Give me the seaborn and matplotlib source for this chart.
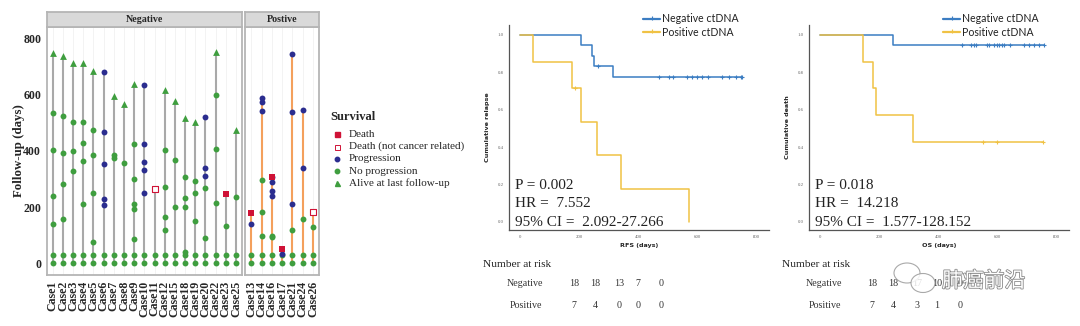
import numpy as np
import pandas as pd
import matplotlib
matplotlib.use("Agg")
import matplotlib.pyplot as plt
import seaborn as sns
from matplotlib.lines import Line2D
from matplotlib.patches import Ellipse
import matplotlib.patheffects as pe

sns.set_theme(style="white")
plt.rcParams["font.family"] = ["Liberation Serif", "DejaVu Sans"]

# ---------------- data: swimmer plot ----------------
neg_cases = ["Case1", "Case2", "Case3", "Case4", "Case5", "Case6", "Case7", "Case8", "Case9", "Case10",
             "Case11", "Case12", "Case15", "Case18", "Case19", "Case20", "Case22", "Case23", "Case25"]
pos_cases = ["Case13", "Case14", "Case16", "Case17", "Case21", "Case24", "Case26"]
baseline_days = [0, 30]

alive_case = ["Case1", "Case2", "Case3", "Case4", "Case5", "Case7", "Case8", "Case9", "Case12", "Case15",
              "Case18", "Case19", "Case22", "Case25"]
alive_day = [749, 737, 713, 713, 685, 593, 565, 637, 615, 577, 518, 504, 751, 473]

noprog_case = (["Case1"] * 4 + ["Case2"] * 4 + ["Case3"] * 3 + ["Case4"] * 4 + ["Case5"] * 4 +
               ["Case7"] * 2 + ["Case8"] + ["Case9"] * 5 + ["Case12"] * 4 + ["Case15"] * 2 +
               ["Case18"] * 4 + ["Case19"] * 3 + ["Case20"] * 2 + ["Case22"] * 3 + ["Case23"] +
               ["Case25"] + ["Case14"] * 3 + ["Case16"] * 2 + ["Case21"] + ["Case24"] + ["Case26"])
noprog_day = [536, 403, 239, 140, 525, 391, 281, 157, 501, 399, 328, 501, 429, 364, 210,
              474, 384, 251, 77, 384, 376, 357, 424, 300, 211, 193, 88, 404, 271, 166, 120,
              366, 201, 307, 232, 200, 40, 293, 251, 150, 269, 89, 600, 406, 213, 133, 237,
              181, 296, 96, 97, 92, 118, 156, 130]

prog_case = (["Case6"] * 5 + ["Case10"] * 5 + ["Case20"] * 3 + ["Case13"] + ["Case14"] * 3 +
             ["Case16"] * 4 + ["Case17"] + ["Case21"] * 3 + ["Case24"] * 2)
prog_day = [679, 467, 354, 229, 207, 634, 423, 360, 333, 251, 521, 340, 312, 141,
            589, 572, 541, 305, 290, 257, 240, 33, 743, 539, 210, 545, 340]

death_case = ["Case13", "Case16", "Case17", "Case23"]
death_day = [178, 308, 50, 245]
death_nc_case = ["Case11", "Case26"]
death_nc_day = [264, 184]

# ---------------- data: Kaplan-Meier ----------------
rfs_neg_events = [207, 243, 251, 314]
rfs_neg_censored = [265, 471, 503, 516, 565, 582, 599, 616, 635, 684, 706, 729, 748, 751]
rfs_pos_events = [45, 177, 207, 260, 342, 573]
rfs_pos_censored = [185]

os_neg_events = [246]
os_neg_censored = [479, 511, 520, 527, 565, 572, 587, 600, 604, 616, 623, 644, 690, 707, 724, 741, 758]
os_pos_events = [145, 179, 188, 313]
os_pos_censored = [550, 598, 754]

risk_times = [0, 200, 400, 600, 800]
rfs_risk_neg = [18, 18, 13, 7, 0]
rfs_risk_pos = [7, 4, 0, 0, 0]
os_risk_neg = [18, 18, 17, 10, 0]
os_risk_pos = [7, 4, 3, 1, 0]

stats_rfs = ["P = 0.002", "HR =  7.552", "95% CI =  2.092-27.266"]
stats_os = ["P = 0.018", "HR =  14.218", "95% CI =  1.577-128.152"]

# ---------------- styling ----------------
W, H = 1080, 326
C_GREEN = "#3f9e3f"
C_BLUE = "#2b2d8f"
C_RED = "#cf1236"
C_GREY_LINE = "#a9a9a9"
C_ORANGE = "#f4a05c"
C_KM_NEG = "#3b7dc2"
C_KM_POS = "#f0c244"

fig = plt.figure(figsize=(W / 100, H / 100), dpi=100)
fig.patch.set_facecolor("white")


def px_axes(l, t, r, b):
    return fig.add_axes([l / W, 1 - b / H, (r - l) / W, (b - t) / H])


def fx(x):
    return x / W


def fy(y):
    return 1 - y / H


# build long table of swimmer points
rows = []
for c in neg_cases + pos_cases:
    for d in baseline_days:
        rows.append((c, d, "No progression"))
for c, d in zip(noprog_case, noprog_day):
    rows.append((c, d, "No progression"))
for c, d in zip(alive_case, alive_day):
    rows.append((c, d, "Alive at last follow-up"))
for c, d in zip(prog_case, prog_day):
    rows.append((c, d, "Progression"))
for c, d in zip(death_case, death_day):
    rows.append((c, d, "Death"))
for c, d in zip(death_nc_case, death_nc_day):
    rows.append((c, d, "Death (not cancer related)"))
swim = pd.DataFrame(rows, columns=["case", "day", "status"])

styles = {
    "No progression": dict(marker="o", color=C_GREEN, s=18, linewidth=0),
    "Alive at last follow-up": dict(marker="^", color=C_GREEN, s=24, linewidth=0),
    "Progression": dict(marker="o", color=C_BLUE, s=18, linewidth=0),
    "Death": dict(marker="s", color=C_RED, s=17, linewidth=0),
}


def facet(ax, cases, line_color, title):
    sub = swim[swim["case"].isin(cases)].copy()
    sub["pos"] = sub["case"].map({c: i for i, c in enumerate(cases)})
    top = sub.groupby("pos")["day"].max()
    for i in range(len(cases)):
        ax.axvline(i, color="#eeeeee", lw=0.5, zorder=0)
    ax.vlines(top.index, 0, top.values, color=line_color, lw=1.5, zorder=1)
    for st, kw in styles.items():
        d = sub[sub["status"] == st]
        if len(d):
            sns.scatterplot(data=d, x="pos", y="day", ax=ax, legend=False, zorder=3, **kw)
    d = sub[sub["status"] == "Death (not cancer related)"]
    if len(d):
        ax.scatter(d["pos"], d["day"], marker="s", s=17, facecolors="white",
                   edgecolors=C_RED, linewidths=0.8, zorder=3)
    ax.set_xlim(-0.6, len(cases) - 0.4)
    ax.set_ylim(-41.6, 841)
    ax.set_xticks(range(len(cases)))
    ax.set_xticklabels(cases, rotation=90, fontsize=8.6, fontweight="bold")
    ax.set_xlabel("")
    ax.set_ylabel("")
    for s in ax.spines.values():
        s.set_color("#b5b5b5")
        s.set_linewidth(1.3)
    ax.tick_params(axis="both", length=2.5, width=0.6, color="#555555", pad=1.5)
    ax.set_facecolor("white")


ax_neg = px_axes(46.7, 26.7, 242, 275)
facet(ax_neg, neg_cases, C_GREY_LINE, "Negative")
ax_neg.set_yticks([0, 200, 400, 600, 800])
ax_neg.set_yticklabels(["0", "200", "400", "600", "800"], fontsize=8.6, fontweight="bold")
ax_neg.set_ylabel("Follow-up (days)", fontsize=9.3, fontweight="bold")
ax_neg.yaxis.set_label_coords(-0.112, 0.5)

ax_pos = px_axes(245, 26.7, 319.3, 275)
facet(ax_pos, pos_cases, C_ORANGE, "Postive")
ax_pos.set_yticks([0, 200, 400, 600, 800])
ax_pos.set_yticklabels([])
ax_pos.tick_params(axis="y", length=0)

# facet strips
for (l, r, txt) in [(46.7, 242, "Negative"), (245, 319.3, "Postive")]:
    sa = px_axes(l, 11.7, r, 26.7)
    sa.set_facecolor("#d9d9d9")
    sa.set_xticks([])
    sa.set_yticks([])
    for s in sa.spines.values():
        s.set_color("#b5b5b5")
        s.set_linewidth(1.3)
    sa.text(0.5, 0.5, txt, ha="center", va="center", fontsize=7.2, fontweight="bold",
            transform=sa.transAxes)

# swimmer legend (manual)
fig.text(fx(330), fy(117), "Survival", fontsize=9, fontweight="bold", va="center", ha="left")
leg_items = [
    ("Death", dict(marker="s", color=C_RED, ms=3.6, ls="none")),
    ("Death (not cancer related)", dict(marker="s", mfc="white", mec=C_RED, mew=0.7, ms=3.6, ls="none")),
    ("Progression", dict(marker="o", color=C_BLUE, ms=3.2, ls="none")),
    ("No progression", dict(marker="o", color=C_GREEN, ms=3.2, ls="none")),
    ("Alive at last follow-up", dict(marker="^", color=C_GREEN, ms=3.6, ls="none")),
]
for i, (lab, kw) in enumerate(leg_items):
    yy = 134.3 + i * 12.25
    fig.add_artist(Line2D([fx(337)], [fy(yy)], transform=fig.transFigure, **kw))
    fig.text(fx(349), fy(yy), lab, fontsize=8, va="center", ha="left")


# ---------------- Kaplan-Meier panels ----------------
def km_curve(events, censored):
    times = sorted(set(events) | set(censored))
    n = len(events) + len(censored)
    s = 1.0
    xs, ys = [0], [1.0]
    surv_at = {}
    for t in times:
        d = events.count(t)
        c = censored.count(t)
        if d:
            s *= 1 - d / n
            xs.append(t)
            ys.append(s)
        surv_at[t] = s
        n -= d + c
    last = max(times)
    if xs[-1] != last:
        xs.append(last)
        ys.append(s)
    cy = [surv_at[t] for t in censored]
    return xs, ys, censored, cy


def km_panel(l, r, neg, pos, ylabel, xlabel, stats, risk_neg, risk_pos, risk_x, risk_left):
    ax = px_axes(l, 25, r, 230)
    for (ev, ce), col in [(neg, C_KM_NEG), (pos, C_KM_POS)]:
        xs, ys, cx, cy = km_curve(ev, ce)
        sns.lineplot(x=xs, y=ys, ax=ax, color=col, lw=1.1, drawstyle="steps-post",
                     estimator=None, sort=False)
        if cx:
            sns.scatterplot(x=cx, y=cy, ax=ax, marker="+", s=9, color=col, linewidth=0.8,
                            legend=False, zorder=4)
    ax.set_xlim(-37, 842)
    ax.set_ylim(-0.043, 1.053)
    ax.set_xticks([0, 200, 400, 600, 800])
    ax.set_xticklabels(["0", "200", "400", "600", "800"])
    ax.set_yticks([0, 0.2, 0.4, 0.6, 0.8, 1.0])
    ax.set_yticklabels(["0.0", "0.2", "0.4", "0.6", "0.8", "1.0"])
    ax.tick_params(axis="both", labelsize=3.5, labelcolor="#666666", length=2, width=0.5,
                   color="#777777", pad=1.5)
    for s in ["top", "right"]:
        ax.spines[s].set_visible(False)
    for s in ["left", "bottom"]:
        ax.spines[s].set_color("#555555")
        ax.spines[s].set_linewidth(0.9)
    ax.set_ylabel(ylabel, family="DejaVu Sans", fontsize=4.6, fontweight="bold", labelpad=6)
    ax.set_xlabel(xlabel, family="DejaVu Sans", fontsize=4.6, fontweight="bold", labelpad=3)
    ax.set_facecolor("white")

    # legend (manual, above axes)
    lx0 = l + 134
    for i, (lab, col) in enumerate([("Negative ctDNA", C_KM_NEG), ("Positive ctDNA", C_KM_POS)]):
        yy = 19 + i * 13.3
        fig.add_artist(Line2D([fx(lx0), fx(lx0 + 17)], [fy(yy)] * 2, transform=fig.transFigure,
                              color=col, lw=1.6))
        fig.add_artist(Line2D([fx(lx0 + 8.5)], [fy(yy - 1)], transform=fig.transFigure,
                              color=col, marker="+", ms=2.5, mew=0.8))
        fig.text(fx(lx0 + 19), fy(yy), lab, family=["Lato", "DejaVu Sans"], fontsize=7.6,
                 va="center", ha="left", color="#222222")

    # stats
    for i, t in enumerate(stats):
        fig.text(fx(l + 6), fy(185 + i * 18.5), t, fontsize=11, va="center", ha="left",
                 color="#222222")

    # number at risk
    fig.text(fx(risk_left), fy(264.3), "Number at risk", fontsize=8.2, va="center", ha="left",
             color="#222222")
    fig.text(fx(risk_left + 24), fy(284), "Negative", fontsize=7.2, va="center", ha="left",
             color="#333333")
    fig.text(fx(risk_left + 26.5), fy(305), "Positive", fontsize=7.2, va="center", ha="left",
             color="#333333")
    for xpos, a, b in zip(risk_x, risk_neg, risk_pos):
        fig.text(fx(xpos), fy(284), str(a), fontsize=7.2, va="center", ha="center", color="#333333")
        fig.text(fx(xpos), fy(305), str(b), fontsize=7.2, va="center", ha="center", color="#333333")
    return ax


km_panel(509, 769, (rfs_neg_events, rfs_neg_censored), (rfs_pos_events, rfs_pos_censored),
         "Cumulative relapse", "RFS (days)", stats_rfs, rfs_risk_neg, rfs_risk_pos,
         [574, 595, 619, 638, 661], 483)
km_panel(809, 1069, (os_neg_events, os_neg_censored), (os_pos_events, os_pos_censored),
         "Cumulative death", "OS (days)", stats_os, os_risk_neg, os_risk_pos,
         [872, 893, 917, 937, 960], 782)

# watermark
for (cx, cy, w, h) in [(907, 273, 26, 20), (923, 283, 24, 19)]:
    e = Ellipse((fx(cx), fy(cy)), w / W, h / H, transform=fig.transFigure,
                facecolor="white", edgecolor="#9a9a9a", lw=0.8, alpha=0.85, zorder=10)
    fig.add_artist(e)
wm = fig.text(fx(942), fy(281), "肺癌前沿", family=["Noto Sans CJK SC", "DejaVu Sans"],
              fontsize=15, va="center", ha="left", color="white", zorder=11)
wm.set_path_effects([pe.Stroke(linewidth=1.2, foreground="#8a8a8a"), pe.Normal()])

fig.savefig("out.png", dpi=100, facecolor="white")
